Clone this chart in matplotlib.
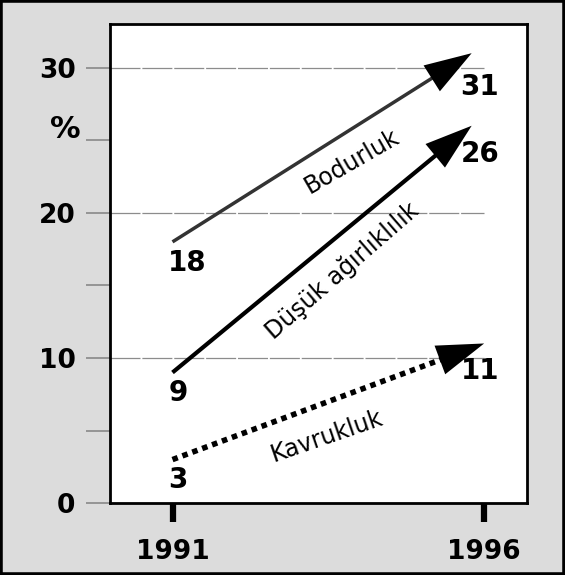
import numpy as np
import matplotlib
matplotlib.use('Agg')
import matplotlib.pyplot as plt
from matplotlib.patches import Rectangle

# data
years = [1991, 1996]
names = ['Bodurluk', 'Düşük ağırlıklılık', 'Kavrukluk']
start_vals = [18, 9, 3]
end_vals = [31, 26, 11]
y_major = [0, 10, 20, 30]
y_minor = [5, 15, 25]

plt.rcParams['font.family'] = ['DejaVu Sans']

fig = plt.figure(figsize=(5.65, 5.75), dpi=100, facecolor='#dcdcdc')
fig.patches.append(Rectangle((0, 0), 1, 1, transform=fig.transFigure,
                             fill=False, edgecolor='black', lw=4))

ax = fig.add_axes([0.195, 0.125, 0.738, 0.833])
ax.set_facecolor('white')
ax.set_xlim(1990.0, 1996.69)
ax.set_ylim(0, 33)
for s in ax.spines.values():
    s.set_linewidth(2)
    s.set_color('black')

# y axis
ax.set_yticks(y_major)
ax.set_yticklabels([str(v) for v in y_major], fontsize=19, fontweight='bold')
ax.set_yticks(y_minor, minor=True)
ax.tick_params(axis='y', which='both', length=17, width=1.2, color='#888888', pad=8)
ax.hlines(y_major[1:], 1990.0, years[1], color='#8c8c8c', lw=0.9, linestyle=(0, (24, 1.5)), zorder=1)

# x axis
ax.set_xticks(years)
ax.set_xticklabels([str(y) for y in years], fontsize=19, fontweight='bold')
ax.tick_params(axis='x', length=14, width=4.5, color='black', pad=12)

fig.text(0.115, 0.774, '%', fontsize=22, fontweight='bold', ha='center', va='center')

# arrows
tip_x = [1995.8, 1995.8, 1996.0]
styles = [dict(color='#333333', lw=2.5, ls='-'),
          dict(color='black', lw=3, ls='-'),
          dict(color='black', lw=4, ls=(0, (1, 0.9)))]
end_off = [-24, -20, -20]
for i in range(3):
    x0, y0 = years[0], start_vals[i]
    x1, y1 = tip_x[i], end_vals[i]
    dx, dy = x1 - x0, y1 - y0
    ax.plot([x0, x1 - 0.06 * dx], [y0, y1 - 0.06 * dy], solid_capstyle='butt',
            dash_capstyle='butt', zorder=3, **styles[i])
    ax.annotate('', xy=(x1, y1), xytext=(x1 - 0.15 * dx, y1 - 0.15 * dy),
                arrowprops=dict(arrowstyle='-|>,head_length=1.7,head_width=0.55',
                                mutation_scale=20, color='black', lw=0,
                                shrinkA=0, shrinkB=0), zorder=4)
    ax.annotate(str(start_vals[i]), xy=(x0, y0), xytext=(-3, -15), textcoords='offset points',
                ha='left', va='center', fontsize=20, fontweight='bold')
    ax.annotate(str(end_vals[i]), xy=(years[1], y1), xytext=(-3, end_off[i]), textcoords='offset points',
                ha='center', va='center', fontsize=20, fontweight='bold')

# rotated labels
ax.text(1993.88, 23.5, names[0], rotation=30, ha='center', va='center',
        rotation_mode='anchor', fontsize=17)
ax.text(1993.72, 16.0, names[1], rotation=41, ha='center', va='center',
        rotation_mode='anchor', fontsize=17)
ax.text(1993.47, 4.6, names[2], rotation=19, ha='center', va='center',
        rotation_mode='anchor', fontsize=17)

fig.savefig('out.png', dpi=100, facecolor=fig.get_facecolor())
